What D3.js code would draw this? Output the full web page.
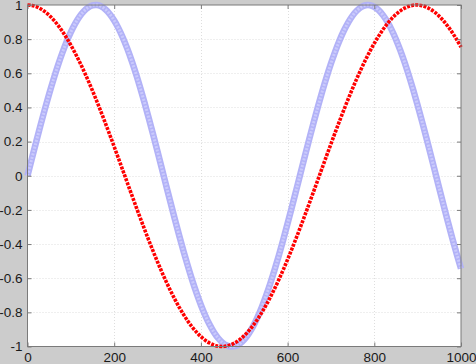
<!DOCTYPE html>
<html><head><meta charset="utf-8">
<script src="https://cdn.jsdelivr.net/npm/d3@7"></script>
<style>
html,body{margin:0;padding:0;background:#cccccc;overflow:hidden;}
svg{display:block;}
text{font-family:"Liberation Sans",Arial,sans-serif;font-size:13.5px;fill:#1a1a1a;}
</style></head>
<body>
<script>
// x positions (step 10)
const xValues = d3.range(0, 1001, 10);
// blue series (circle markers)
const blueValues = [0,0.0998,0.1987,0.2955,0.3894,0.4794,0.5646,0.6442,0.7174,0.7833,
0.8415,0.8912,0.9320,0.9636,0.9854,0.9975,0.9996,0.9917,0.9738,0.9463,
0.9093,0.8632,0.8085,0.7457,0.6755,0.5985,0.5155,0.4274,0.3350,0.2392,
0.1411,0.0416,-0.0584,-0.1577,-0.2555,-0.3508,-0.4425,-0.5298,-0.6119,-0.6878,
-0.7568,-0.8183,-0.8716,-0.9162,-0.9516,-0.9775,-0.9937,-0.9999,-0.9962,-0.9825,
-0.9589,-0.9258,-0.8835,-0.8323,-0.7728,-0.7055,-0.6313,-0.5507,-0.4646,-0.3739,
-0.2794,-0.1822,-0.0831,0.0168,0.1165,0.2151,0.3115,0.4048,0.4941,0.5784,
0.6570,0.7290,0.7937,0.8504,0.8987,0.9380,0.9679,0.9882,0.9985,0.9989,
0.9894,0.9699,0.9407,0.9022,0.8546,0.7985,0.7344,0.6630,0.5849,0.5010,
0.4121,0.3191,0.2229,0.1245,0.0248,-0.0752,-0.1743,-0.2718,-0.3665,-0.4575,
-0.5440];
// red series (thick dotted line)
const redValues = [1.0000,0.9976,0.9902,0.9780,0.9611,0.9394,0.9131,0.8823,0.8473,0.8080,
0.7648,0.7179,0.6674,0.6138,0.5570,0.4976,0.4357,0.3717,0.3058,0.2385,
0.1700,0.1006,0.0308,-0.0392,-0.1090,-0.1782,-0.2466,-0.3138,-0.3795,-0.4432,
-0.5048,-0.5640,-0.6204,-0.6737,-0.7238,-0.7704,-0.8129,-0.8517,-0.8863,-0.9164,
-0.9422,-0.9634,-0.9797,-0.9913,-0.9981,-1.0000,-0.9969,-0.9890,-0.9762,-0.9587,
-0.9365,-0.9096,-0.8783,-0.8428,-0.8031,-0.7594,-0.7122,-0.6612,-0.6071,-0.5501,
-0.4902,-0.4281,-0.3639,-0.2978,-0.2303,-0.1617,-0.0923,-0.0224,0.0476,0.1173,
0.1865,0.2548,0.3218,0.3872,0.4508,0.5121,0.5709,0.6269,0.6799,0.7296,
0.7756,0.8178,0.8561,0.8901,0.9198,0.9450,0.9656,0.9814,0.9924,0.9986,
0.9999,0.9962,0.9877,0.9744,0.9563,0.9335,0.9061,0.8743,0.8382,0.7980,
0.7539];
const xTicks = [0,200,400,600,800,1000];
const yTicks = [-1,-0.8,-0.6,-0.4,-0.2,0,0.2,0.4,0.6,0.8,1];

const W = 476, H = 364;
const L = 27.5, R = 461, T = 5, B = 346.5;
const svg = d3.select("body").append("svg").attr("width", W).attr("height", H);
const x = d3.scaleLinear().domain([0, 1000]).range([L, R]);
const y = d3.scaleLinear().domain([-1, 1]).range([B, T]);

svg.append("rect").attr("x", L).attr("y", T).attr("width", R - L).attr("height", B - T).attr("fill", "#ffffff");

// grid
const g = svg.append("g");
g.selectAll("line.gx").data(xTicks.slice(1, -1)).join("line")
  .attr("x1", d => Math.round(x(d)) + 0.5).attr("x2", d => Math.round(x(d)) + 0.5)
  .attr("y1", T).attr("y2", B).attr("stroke", "#dedede").attr("stroke-dasharray", "1,2");
g.selectAll("line.gy").data(yTicks.slice(1, -1)).join("line")
  .attr("y1", d => Math.round(y(d)) + 0.5).attr("y2", d => Math.round(y(d)) + 0.5)
  .attr("x1", L).attr("x2", R).attr("stroke", "#dedede").attr("stroke-dasharray", "1,2");

const pts = (vals) => xValues.map((xv, i) => [xv, vals[i]]);
const line = d3.line().x(d => x(d[0])).y(d => y(d[1])).curve(d3.curveCatmullRom);

// blue band
svg.append("path").attr("d", line(pts(blueValues))).attr("fill", "none")
  .attr("stroke", "#b2b2f7").attr("stroke-width", 6.5);
svg.append("path").attr("d", line(pts(blueValues))).attr("fill", "none")
  .attr("stroke", "#cacafc").attr("stroke-width", 3).attr("stroke-dasharray", "2,1.5");

// red dotted
svg.append("path").attr("d", line(pts(redValues))).attr("fill", "none")
  .attr("stroke", "#ff0000").attr("stroke-width", 3.6).attr("stroke-dasharray", "3,1.2");

// axes box
svg.append("rect").attr("x", L).attr("y", T).attr("width", R - L).attr("height", B - T)
  .attr("fill", "none").attr("stroke", "#7a7a7a").attr("stroke-width", 1);

const axB = d3.axisBottom(x).tickValues(xTicks).tickSize(-4).tickPadding(6).tickFormat(d3.format("d"));
const axL = d3.axisLeft(y).tickValues(yTicks).tickSize(-4).tickPadding(5).tickFormat(d => String(+d.toFixed(1)));
const axT = d3.axisTop(x).tickValues(xTicks).tickSize(-4).tickFormat("");
const axR = d3.axisRight(y).tickValues(yTicks).tickSize(-4).tickFormat("");
[ [axB, `translate(0,${B})`], [axL, `translate(${L},0)`], [axT, `translate(0,${T})`], [axR, `translate(${R},0)`] ]
  .forEach(([a, tr]) => {
    const gg = svg.append("g").attr("transform", tr).call(a);
    gg.select(".domain").remove();
    gg.selectAll(".tick line").attr("stroke", "#7a7a7a");
    gg.selectAll("text").attr("font-size", 13.5).attr("fill", "#1a1a1a")
      .attr("font-family", "Liberation Sans, Arial, sans-serif");
  });
</script>
</body></html>
